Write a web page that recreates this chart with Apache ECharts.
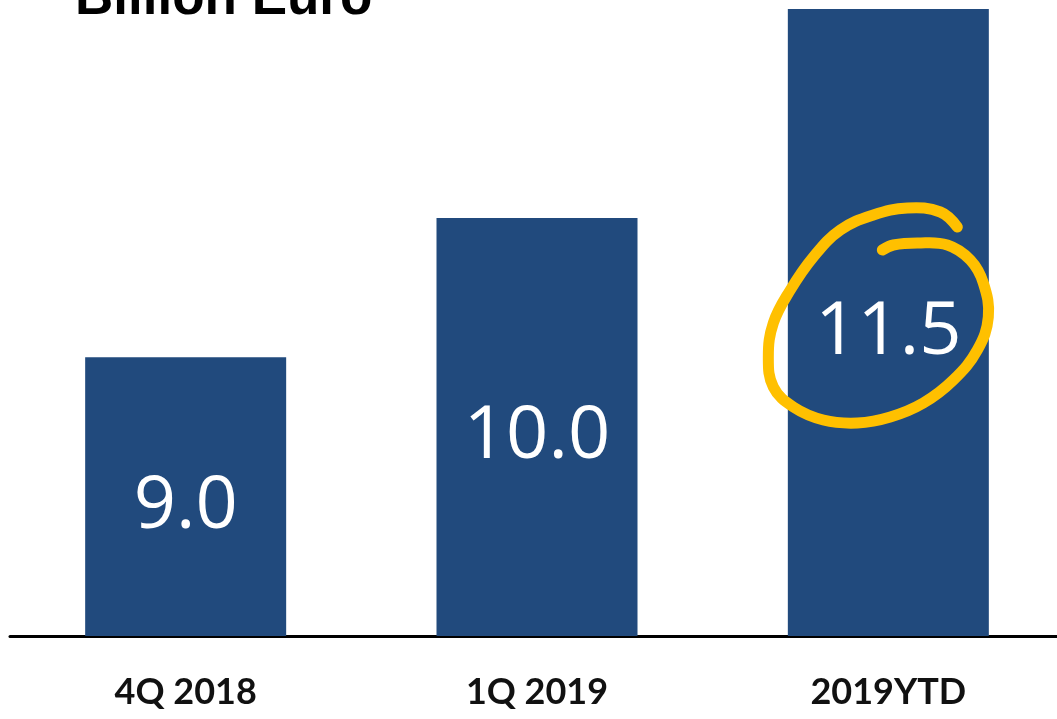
<!DOCTYPE html>
<html>
<head>
<meta charset="utf-8">
<script src="https://cdn.jsdelivr.net/npm/echarts@6/dist/echarts.min.js"></script>
<style>
  html,body{margin:0;padding:0;background:#fff;overflow:hidden}
  #bar{width:1064px;height:719px}
</style>
</head>
<body>
<div id="bar"></div>
<script>
// chart data
var categories = ['4Q 2018', '1Q 2019', '2019YTD']
var values = [9.0, 10.0, 11.5]
var unitTitle = 'Billion Euro'

var chart = echarts.init(document.getElementById('bar'))

var option = {
    animation: false,
    grid: {
        left: 10,
        right: 0,
        top: 9,
        bottom: 83
    },
    xAxis: {
        type: 'category',
        data: categories,
        axisLine: {
            lineStyle: { color: '#000', width: 3 }
        },
        axisTick: { show: false },
        axisLabel: {
            margin: 38,
            color: '#111',
            fontSize: 36,
            fontWeight: 'bold',
            fontFamily: 'Lato'
        }
    },
    yAxis: {
        type: 'value',
        min: 7,
        max: 11.5,
        show: false,
        splitLine: { show: false }
    },
    series: [{
        type: 'bar',
        data: values,
        barWidth: 201,
        itemStyle: { color: '#214a7d' },
        label: {
            show: true,
            position: 'inside',
            offset: [0, 10],
            color: '#fff',
            fontSize: 74,
            fontFamily: 'Open Sans',
            formatter: function (p) { return p.value.toFixed(1) }
        }
    }]
}
chart.setOption(option)

// hand-drawn highlight round the last bar's label, placed from the bar's pixel position
var anchor = chart.convertToPixel({ seriesIndex: 0 }, [2, values[2]])
var loop = [
    [69, 218], [52, 203], [19, 199], [-15, 206], [-48, 221], [-75, 248],
    [-98, 281], [-115, 314], [-120, 348], [-115, 378], [-95, 398], [-65, 411],
    [-31, 414], [2, 408], [35, 394], [65, 371], [89, 341], [100, 308],
    [95, 274], [82, 251], [59, 236], [29, 234], [5, 236], [-6, 241]
]
chart.setOption({
    graphic: [{
        type: 'text',
        left: 75,
        z: 100,
        style: {
            x: 0,
            y: -1,
            text: unitTitle,
            fill: '#000',
            font: 'bold 53px "Liberation Sans", Arial, sans-serif',
            textVerticalAlign: 'middle'
        }
    }, {
        type: 'polyline',
        z: 100,
        shape: {
            points: loop.map(function (p) { return [anchor[0] + p[0], anchor[1] + p[1]] }),
            smooth: 0.4
        },
        style: {
            stroke: '#ffc000',
            lineWidth: 11,
            lineCap: 'round',
            lineJoin: 'round',
            fill: null
        }
    }]
})
</script>
</body>
</html>
